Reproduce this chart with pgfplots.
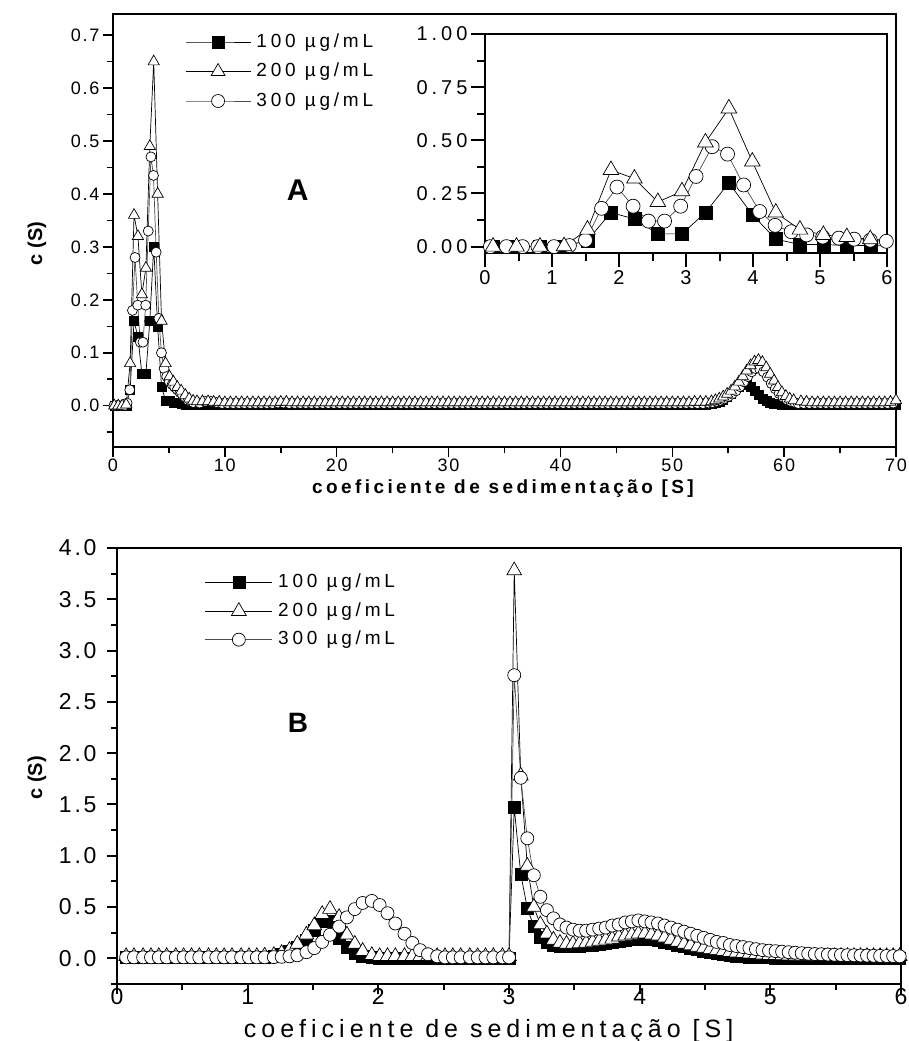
\documentclass[border=0pt]{standalone}
\usepackage{fontspec}
\setmainfont{Liberation Sans}
\newfontfamily\fs[LetterSpace=20]{Liberation Sans}
\newfontfamily\fsa[LetterSpace=10]{Liberation Sans}
\newfontfamily\fsb[LetterSpace=12]{Liberation Sans}
\newfontfamily\fsc[LetterSpace=20]{Liberation Sans}
\newfontfamily\fsx[LetterSpace=18]{Liberation Sans}
\usepackage{pgfplots}
\usepackage{pgfplotstable}
\pgfplotsset{compat=1.18}

\pgfplotsset{
  sq/.style={black, line width=0.7pt, mark=square*, mark options={solid, fill=black, draw=black, line width=0.4pt}},
  tri/.style={black, line width=0.7pt, mark=triangle*, mark options={solid, fill=white, draw=black, line width=0.7pt}},
  cir/.style={black!70, line width=0.7pt, mark=*, mark options={solid, fill=white, draw=black, line width=0.7pt}},
}

% top panel: 100 (a) and 200 (b) ug/mL
\pgfplotstableread[row sep=\\]{
x a b\\
0.12 0 0\\ 0.47 0 0\\ 0.82 0 0\\ 1.18 0 0.002\\ 1.53 0.03 0.08\\ 1.88 0.16 0.36\\
2.23 0.13 0.32\\ 2.58 0.06 0.21\\ 2.94 0.06 0.26\\ 3.29 0.16 0.49\\ 3.64 0.30 0.65\\ 3.99 0.15 0.40\\
4.34 0.035 0.16\\ 4.70 0.01 0.08\\ 5.05 0.01 0.055\\ 5.40 0.005 0.045\\ 5.75 0.005 0.035\\ 6.10 0.003 0.028\\
6.46 0.002 0.02\\ 6.81 0.002 0.013\\ 7.16 0.002 0.009\\ 7.51 0.002 0.008\\
8.0 0.002 0.008\\ 8.5 0.002 0.008\\ 9.0 0.002 0.007\\ 9.5 0.002 0.007\\ 10.0 0.002 0.006\\ 10.5 0.002 0.006\\
11.0 0.002 0.006\\ 11.5 0.002 0.006\\ 12.0 0.002 0.006\\ 12.5 0.002 0.006\\ 13.0 0.002 0.006\\ 13.5 0.002 0.006\\
14.0 0.002 0.006\\ 14.5 0.002 0.006\\ 15.0 0.002 0.007\\ 15.5 0.002 0.007\\ 16.0 0.002 0.006\\ 16.5 0.002 0.006\\
17.0 0.002 0.006\\ 17.5 0.002 0.006\\ 18.0 0.002 0.006\\ 18.5 0.002 0.006\\ 19.0 0.002 0.006\\ 19.5 0.002 0.006\\
20.0 0.002 0.006\\ 20.5 0.002 0.006\\ 21.0 0.002 0.006\\ 21.5 0.002 0.006\\ 22.0 0.002 0.006\\ 22.5 0.002 0.006\\
23.0 0.002 0.006\\ 23.5 0.002 0.006\\ 24.0 0.002 0.006\\ 24.5 0.002 0.006\\ 25.0 0.002 0.006\\ 25.5 0.002 0.006\\
26.0 0.002 0.006\\ 26.5 0.002 0.006\\ 27.0 0.002 0.006\\ 27.5 0.002 0.006\\ 28.0 0.002 0.006\\ 28.5 0.002 0.006\\
29.0 0.002 0.006\\ 29.5 0.002 0.006\\ 30.0 0.002 0.006\\ 30.5 0.002 0.006\\ 31.0 0.002 0.006\\ 31.5 0.002 0.006\\
32.0 0.002 0.006\\ 32.5 0.002 0.006\\ 33.0 0.002 0.006\\ 33.5 0.002 0.006\\ 34.0 0.002 0.006\\ 34.5 0.002 0.006\\
35.0 0.002 0.006\\ 35.5 0.002 0.006\\ 36.0 0.002 0.006\\ 36.5 0.002 0.006\\ 37.0 0.002 0.006\\ 37.5 0.002 0.006\\
38.0 0.002 0.006\\ 38.5 0.002 0.006\\ 39.0 0.002 0.006\\ 39.5 0.002 0.006\\ 40.0 0.002 0.006\\ 40.5 0.002 0.006\\
41.0 0.002 0.006\\ 41.5 0.002 0.006\\ 42.0 0.002 0.006\\ 42.5 0.002 0.006\\ 43.0 0.002 0.006\\ 43.5 0.002 0.006\\
44.0 0.002 0.006\\ 44.5 0.002 0.006\\ 45.0 0.002 0.006\\ 45.5 0.002 0.006\\ 46.0 0.002 0.006\\ 46.5 0.002 0.006\\
47.0 0.002 0.006\\ 47.5 0.002 0.006\\ 48.0 0.002 0.006\\ 48.5 0.002 0.006\\ 49.0 0.002 0.006\\ 49.5 0.002 0.006\\
50.0 0.002 0.006\\ 50.5 0.002 0.006\\ 51.0 0.002 0.006\\ 51.5 0.002 0.006\\ 52.0 0.002 0.007\\ 52.5 0.002 0.007\\
53.0 0.002 0.007\\ 53.5 0.003 0.008\\ 53.85 0.005 0.010\\ 54.2 0.008 0.013\\ 54.55 0.012 0.017\\ 54.9 0.017 0.022\\
55.25 0.023 0.028\\ 55.6 0.030 0.036\\ 55.95 0.036 0.045\\ 56.3 0.040 0.055\\ 56.65 0.040 0.066\\ 57.0 0.035 0.076\\
57.35 0.028 0.083\\ 57.7 0.020 0.086\\ 58.05 0.014 0.082\\ 58.4 0.009 0.072\\ 58.75 0.006 0.060\\ 59.1 0.004 0.047\\
59.45 0.003 0.035\\ 59.8 0.002 0.025\\ 60.15 0.002 0.018\\ 60.5 0.002 0.013\\ 60.85 0.002 0.010\\ 61.5 0.002 0.008\\
62.0 0.002 0.007\\ 62.5 0.002 0.006\\ 63.0 0.002 0.006\\ 63.5 0.002 0.006\\ 64.0 0.002 0.006\\ 64.5 0.002 0.006\\
65.0 0.002 0.006\\ 65.5 0.002 0.006\\ 66.0 0.002 0.006\\ 66.5 0.002 0.006\\ 67.0 0.002 0.006\\ 67.5 0.002 0.006\\
68.0 0.002 0.006\\ 68.5 0.002 0.006\\ 69.0 0.002 0.006\\ 69.5 0.002 0.007\\ 70.0 0.002 0.010\\
}\topAB

% top panel: 300 ug/mL (c)
\pgfplotstableread[row sep=\\]{
x c\\
0.08 0\\ 0.32 0\\ 0.56 0\\ 0.79 0\\ 1.03 0\\ 1.26 0.005\\ 1.50 0.03\\ 1.74 0.18\\ 1.97 0.28\\ 2.21 0.19\\
2.44 0.12\\ 2.68 0.12\\ 2.92 0.19\\ 3.15 0.33\\ 3.39 0.47\\ 3.62 0.435\\ 3.86 0.29\\ 4.10 0.165\\ 4.33 0.10\\ 4.57 0.07\\
4.80 0.055\\ 5.04 0.045\\ 5.28 0.04\\ 5.51 0.035\\ 5.75 0.03\\ 5.99 0.025\\ 6.22 0.02\\ 6.46 0.015\\ 6.70 0.01\\ 6.93 0.008\\
7.17 0.006\\ 7.75 0.005\\ 8.25 0.008\\ 8.75 0.008\\ 9.25 0.006\\ 9.75 0.004\\ 10.25 0.004\\ 10.75 0.004\\ 11.25 0.004\\ 11.75 0.004\\
12.25 0.004\\ 12.75 0.004\\ 13.25 0.004\\ 13.75 0.004\\ 14.25 0.004\\ 14.75 0.005\\ 15.25 0.005\\ 15.75 0.004\\ 16.25 0.004\\ 16.75 0.004\\
17.25 0.004\\ 17.75 0.004\\ 18.25 0.004\\ 18.75 0.004\\ 19.25 0.004\\ 19.75 0.004\\ 20.25 0.004\\ 20.75 0.004\\ 21.25 0.004\\ 21.75 0.004\\
22.25 0.004\\ 22.75 0.004\\ 23.25 0.004\\ 23.75 0.004\\ 24.25 0.004\\ 24.75 0.004\\ 25.25 0.004\\ 25.75 0.004\\ 26.25 0.004\\ 26.75 0.004\\
27.25 0.004\\ 27.75 0.004\\ 28.25 0.004\\ 28.75 0.004\\ 29.25 0.004\\ 29.75 0.004\\ 30.25 0.004\\ 30.75 0.004\\ 31.25 0.004\\ 31.75 0.004\\
32.25 0.004\\ 32.75 0.004\\ 33.25 0.004\\ 33.75 0.004\\ 34.25 0.004\\ 34.75 0.004\\ 35.25 0.004\\ 35.75 0.004\\ 36.25 0.004\\ 36.75 0.004\\
37.25 0.004\\ 37.75 0.004\\ 38.25 0.004\\ 38.75 0.004\\ 39.25 0.004\\ 39.75 0.004\\ 40.25 0.004\\ 40.75 0.004\\ 41.25 0.004\\ 41.75 0.004\\
42.25 0.004\\ 42.75 0.004\\ 43.25 0.004\\ 43.75 0.004\\ 44.25 0.004\\ 44.75 0.004\\ 45.25 0.004\\ 45.75 0.004\\ 46.25 0.004\\ 46.75 0.004\\
47.25 0.004\\ 47.75 0.004\\ 48.25 0.004\\ 48.75 0.004\\ 49.25 0.004\\ 49.75 0.004\\ 50.25 0.004\\ 50.75 0.004\\ 51.25 0.004\\ 51.75 0.004\\
52.25 0.004\\ 52.75 0.004\\ 53.25 0.005\\ 53.6 0.006\\ 53.95 0.008\\ 54.3 0.010\\ 54.65 0.013\\ 55.0 0.017\\ 55.35 0.022\\ 55.7 0.028\\
56.05 0.036\\ 56.4 0.045\\ 56.75 0.055\\ 57.1 0.064\\ 57.45 0.070\\ 57.8 0.070\\ 58.15 0.064\\ 58.5 0.054\\ 58.85 0.042\\ 59.2 0.032\\
59.55 0.023\\ 59.9 0.016\\ 60.25 0.011\\ 60.6 0.008\\ 60.95 0.006\\ 61.25 0.004\\ 61.75 0.004\\ 62.25 0.004\\ 62.75 0.004\\ 63.25 0.004\\
63.75 0.004\\ 64.25 0.004\\ 64.75 0.004\\ 65.25 0.004\\ 65.75 0.004\\ 66.25 0.004\\ 66.75 0.004\\ 67.25 0.004\\ 67.75 0.004\\ 68.25 0.004\\
68.75 0.004\\ 69.25 0.004\\ 69.75 0.005\\
}\topC

% bottom panel: a=100, b=200, c=300 ug/mL
\pgfplotstableread[row sep=\\]{
x a b c\\
0.07 0.01 0.02 0.01\\ 0.13 0.01 0.02 0.01\\ 0.20 0.01 0.02 0.01\\ 0.26 0.01 0.02 0.01\\ 0.32 0.01 0.02 0.01\\
0.38 0.01 0.02 0.01\\ 0.45 0.01 0.02 0.01\\ 0.51 0.01 0.02 0.01\\ 0.57 0.01 0.02 0.01\\ 0.63 0.01 0.02 0.01\\
0.70 0.01 0.02 0.01\\ 0.76 0.01 0.02 0.01\\ 0.82 0.01 0.02 0.01\\ 0.88 0.01 0.02 0.01\\ 0.95 0.01 0.02 0.01\\
1.01 0.01 0.02 0.01\\ 1.07 0.01 0.02 0.01\\ 1.13 0.015 0.025 0.01\\ 1.20 0.02 0.03 0.012\\ 1.26 0.04 0.05 0.015\\
1.32 0.07 0.08 0.02\\ 1.38 0.11 0.14 0.03\\ 1.45 0.18 0.23 0.06\\ 1.51 0.27 0.32 0.10\\ 1.57 0.36 0.43 0.16\\
1.63 0.36 0.48 0.23\\ 1.70 0.20 0.40 0.31\\ 1.76 0.11 0.23 0.40\\ 1.82 0.05 0.14 0.48\\ 1.88 0.02 0.07 0.54\\
1.95 0.01 0.03 0.56\\ 2.01 0.005 0.02 0.52\\ 2.07 0.005 0.02 0.44\\ 2.13 0.005 0.02 0.34\\ 2.20 0.005 0.02 0.24\\
2.26 0.005 0.02 0.15\\ 2.32 0.005 0.02 0.08\\ 2.38 0.005 0.02 0.04\\ 2.45 0.005 0.02 0.02\\ 2.51 0.005 0.02 0.01\\
2.57 0.005 0.02 0.01\\ 2.63 0.005 0.02 0.01\\ 2.70 0.005 0.02 0.01\\ 2.76 0.005 0.02 0.01\\ 2.82 0.005 0.02 0.01\\
2.88 0.005 0.02 0.01\\ 2.95 0.005 0.02 0.01\\ 3.00 0.005 0.02 0.01\\
3.04 1.47 3.78 2.76\\ 3.09 0.82 1.78 1.76\\ 3.14 0.49 0.90 1.17\\ 3.19 0.31 0.50 0.81\\ 3.24 0.21 0.33 0.60\\
3.29 0.16 0.24 0.47\\ 3.34 0.13 0.18 0.39\\ 3.39 0.12 0.15 0.33\\ 3.44 0.115 0.14 0.30\\ 3.49 0.115 0.14 0.28\\
3.54 0.12 0.145 0.27\\ 3.59 0.125 0.15 0.27\\ 3.64 0.13 0.16 0.28\\ 3.69 0.14 0.17 0.29\\ 3.74 0.15 0.18 0.30\\
3.79 0.16 0.19 0.32\\ 3.84 0.17 0.21 0.33\\ 3.89 0.18 0.22 0.35\\ 3.94 0.19 0.23 0.36\\ 3.99 0.19 0.24 0.37\\
4.04 0.19 0.24 0.36\\ 4.09 0.185 0.23 0.35\\ 4.14 0.175 0.22 0.34\\ 4.19 0.16 0.20 0.32\\ 4.24 0.15 0.18 0.30\\
4.29 0.13 0.16 0.28\\ 4.34 0.115 0.14 0.26\\ 4.39 0.10 0.125 0.24\\ 4.44 0.085 0.11 0.22\\ 4.49 0.07 0.10 0.20\\
4.54 0.06 0.09 0.18\\ 4.59 0.05 0.08 0.16\\ 4.64 0.04 0.07 0.15\\ 4.69 0.03 0.06 0.13\\ 4.74 0.025 0.055 0.12\\
4.79 0.02 0.05 0.11\\ 4.84 0.015 0.045 0.10\\ 4.89 0.01 0.04 0.09\\ 4.94 0.01 0.035 0.08\\ 4.99 0.008 0.03 0.075\\
5.04 0.006 0.03 0.07\\ 5.09 0.005 0.028 0.065\\ 5.14 0.005 0.026 0.06\\ 5.19 0.005 0.025 0.055\\ 5.24 0.005 0.024 0.05\\
5.29 0.005 0.023 0.045\\ 5.34 0.005 0.022 0.042\\ 5.39 0.005 0.021 0.04\\ 5.44 0.005 0.02 0.037\\ 5.49 0.005 0.02 0.035\\
5.54 0.005 0.02 0.033\\ 5.59 0.005 0.02 0.031\\ 5.64 0.005 0.02 0.03\\ 5.69 0.005 0.02 0.028\\ 5.74 0.005 0.02 0.027\\
5.79 0.005 0.02 0.025\\ 5.84 0.005 0.02 0.024\\ 5.89 0.005 0.02 0.023\\ 5.94 0.005 0.02 0.022\\ 5.99 0.005 0.02 0.02\\
}\botABC

\begin{document}
\begin{tikzpicture}
\useasboundingbox (0,0) rectangle (909pt,1041pt);

% ---------------- Top panel ----------------
\begin{axis}[
  at={(113pt,594pt)}, anchor=south west, scale only axis,
  width=783pt, height=433pt,
  xmin=0, xmax=70, ymin=-0.078, ymax=0.74,
  xtick={0,10,20,30,40,50,60,70}, minor xtick={5,15,25,35,45,55,65},
  ytick={0,0.1,0.2,0.3,0.4,0.5,0.6,0.7},
  minor ytick={-0.05,0.05,0.15,0.25,0.35,0.45,0.55,0.65},
  xtick pos=bottom, ytick pos=left, tick align=outside,
  major tick length=10pt, minor tick length=6pt,
  axis line style={line width=1.5pt},
  every tick/.append style={black, line width=1.5pt},
  /pgf/number format/assume math mode=true,
  tick label style={font=\fsa\fontsize{18pt}{20pt}\selectfont},
  xticklabel style={yshift=2pt},
  yticklabel style={/pgf/number format/fixed, /pgf/number format/fixed zerofill, /pgf/number format/precision=1},
  xlabel={coeficiente de sedimentação [S]},
  xlabel style={at={(axis description cs:0.498,-0.097)}, anchor=center, font=\fsx\bfseries\fontsize{19pt}{21pt}\selectfont},
  ylabel={c (S)},
  ylabel style={at={(axis description cs:-0.097,0.47)}, anchor=center, font=\bfseries\fontsize{20pt}{22pt}\selectfont},
  legend style={at={(axis description cs:0.092,0.96)}, anchor=north west, draw=none, fill=none, inner sep=0pt, row sep=8.5pt,
    font=\fs\fontsize{19pt}{21pt}\selectfont, nodes={inner sep=1.5pt, text height=14pt, text depth=4pt},
    /tikz/every odd column/.append style={column sep=4pt}},
  legend cell align=left,
  legend image code/.code={\draw[mark repeat=2,mark phase=2,#1] plot coordinates {(0pt,0pt) (32.5pt,0pt) (65pt,0pt)};},
]
\addlegendimage{sq, mark size=6pt}
\addlegendentry{100 µg/mL}
\addlegendimage{tri, mark size=8pt}
\addlegendentry{200 µg/mL}
\addlegendimage{cir, mark size=6.5pt}
\addlegendentry{300 µg/mL}
\addplot[sq, mark size=4.5pt, forget plot] table[x=x, y=a] {\topAB};
\addplot[cir, mark size=5pt, forget plot] table[x=x, y=c] {\topC};
\addplot[tri, mark size=6.5pt, forget plot] table[x=x, y=b] {\topAB};
\node[font=\bfseries\fontsize{30pt}{32pt}\selectfont] at (axis description cs:0.236,0.594) {A};
\end{axis}

% ---------------- Inset ----------------
\begin{axis}[
  at={(485pt,788pt)}, anchor=south west, scale only axis,
  width=402pt, height=219pt,
  xmin=0, xmax=6, ymin=-0.03, ymax=1.0,
  axis background/.style={fill=white},
  xtick={0,1,2,3,4,5,6}, minor xtick={0.5,1.5,2.5,3.5,4.5,5.5},
  ytick={0,0.25,0.5,0.75,1}, minor ytick={0.125,0.375,0.625,0.875},
  xtick pos=bottom, ytick pos=left, tick align=outside,
  major tick length=14pt, minor tick length=8pt,
  axis line style={line width=2.5pt},
  every tick/.append style={black, line width=2pt},
  /pgf/number format/assume math mode=true,
  tick label style={font=\fs\fontsize{20pt}{22pt}\selectfont},
  yticklabel style={/pgf/number format/fixed, /pgf/number format/fixed zerofill, /pgf/number format/precision=2},
]
\addplot[sq, mark size=6.5pt, restrict x to domain=-1:6.5] table[x=x, y=a] {\topAB};
\addplot[cir, mark size=7pt, restrict x to domain=-1:6.5] table[x=x, y=c] {\topC};
\addplot[tri, mark size=9pt, restrict x to domain=-1:6.5] table[x=x, y=b] {\topAB};
\end{axis}

% ---------------- Bottom panel ----------------
\begin{axis}[
  at={(117pt,57pt)}, anchor=south west, scale only axis,
  width=784pt, height=436pt,
  xmin=0, xmax=6, ymin=-0.25, ymax=4.0,
  xtick={0,1,2,3,4,5,6}, minor xtick={0.5,1.5,2.5,3.5,4.5,5.5},
  ytick={0,0.5,1,1.5,2,2.5,3,3.5,4},
  minor ytick={-0.25,0.25,0.75,1.25,1.75,2.25,2.75,3.25,3.75},
  xtick pos=bottom, ytick pos=left, tick align=outside,
  major tick length=10pt, minor tick length=6pt,
  axis line style={line width=2.5pt},
  every tick/.append style={black, line width=2pt},
  /pgf/number format/assume math mode=true,
  tick label style={font=\fsb\fontsize{23pt}{25pt}\selectfont},
  xticklabel style={yshift=9pt},
  yticklabel style={xshift=-7pt, /pgf/number format/fixed, /pgf/number format/fixed zerofill, /pgf/number format/precision=1},
  xlabel={coeficiente de sedimentação [S]},
  xlabel style={at={(axis description cs:0.474,-0.1216)}, anchor=base, font=\fsc\fontsize{25pt}{27pt}\selectfont},
  ylabel={c (S)},
  ylabel style={at={(axis description cs:-0.102,0.473)}, anchor=center, font=\bfseries\fontsize{20pt}{22pt}\selectfont},
  legend style={at={(axis description cs:0.112,0.945)}, anchor=north west, draw=none, fill=none, inner sep=0pt, row sep=7.5pt,
    font=\fs\fontsize{19pt}{21pt}\selectfont, nodes={inner sep=1.5pt, text height=14pt, text depth=4pt},
    /tikz/every odd column/.append style={column sep=4pt}},
  legend cell align=left,
  legend image code/.code={\draw[mark repeat=2,mark phase=2,#1] plot coordinates {(0pt,0pt) (33.5pt,0pt) (67pt,0pt)};},
]
\addplot[sq, mark size=6pt] table[x=x, y=a] {\botABC};
\addlegendentry{100 µg/mL}
\addplot[tri, mark size=8.5pt] table[x=x, y=b] {\botABC};
\addlegendentry{200 µg/mL}
\addplot[cir, mark size=6.5pt] table[x=x, y=c] {\botABC};
\addlegendentry{300 µg/mL}
\node[font=\bfseries\fontsize{28pt}{30pt}\selectfont] at (axis description cs:0.231,0.60) {B};
\end{axis}
\end{tikzpicture}
\end{document}
